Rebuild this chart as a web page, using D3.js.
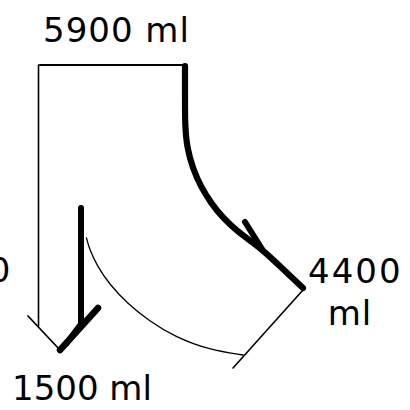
<!DOCTYPE html>
<html>
<head>
<meta charset="utf-8">
<script src="https://cdn.jsdelivr.net/npm/d3@7"></script>
<style>
	body { margin: 0; background: #fff; }
	svg { display: block; }
	text { font-family: 'DejaVu Sans', sans-serif; fill: #000; }
</style>
</head>
<body>
<svg id="chart" width="410" height="410"></svg>
<script>
// diagram points, in units of 10px on a 41 x 41 grid
const topEdge = [[4.0, 6.5], [18.6, 6.5]];
const leftDrop = [[3.85, 6.5], [3.85, 32.6]];
const leftHeadThin = [[2.8, 31.6], [6.0, 35.0]];
const leftHeadThick = [[6.0, 35.0], [9.8, 30.8]];
const innerStem = [[8.1, 20.8], [8.1, 32.4], [6.6, 34.4]];
const rightPath = [[18.5, 6.6], [18.5, 10.0], [18.5, 12.5], [18.7, 14.8], [19.3, 16.9], [20.1, 18.7], [21.1, 20.3], [22.3, 21.8], [23.7, 23.1], [25.2, 24.2], [26.5, 25.2], [28.4, 27.0], [30.3, 28.8]];
const rightBarb = [[24.5, 22.2], [26.2, 24.9]];
const returnArc = [[8.65, 23.8], [8.9, 24.8], [9.7, 26.6], [11.0, 28.5], [12.8, 30.4], [14.8, 32.0], [17.5, 33.7], [21.0, 35.0], [24.3, 35.5]];
const returnLine = [[30.3, 29.0], [23.3, 36.8]];

const labels = [
	{text: '5900 ml', x: 4.3, y: 4.2, anchor: 'start', spacing: 1},
	{text: '1500 ml', x: 1.2, y: 40.0, anchor: 'start', spacing: 0},
	{text: '4400', x: 30.8, y: 28.3, anchor: 'start', spacing: 2},
	{text: 'ml', x: 35.0, y: 32.5, anchor: 'middle', spacing: 1},
	{text: '0', x: 1.05, y: 28.2, anchor: 'end', spacing: 0}
];

const svg = d3.select('#chart');
const x = d3.scaleLinear().domain([0, 41]).range([0, 410]);
const y = d3.scaleLinear().domain([0, 41]).range([0, 410]);

const straight = d3.line().x(d => x(d[0])).y(d => y(d[1]));
const smooth = d3.line().x(d => x(d[0])).y(d => y(d[1])).curve(d3.curveBasis);

function draw(points, gen, width) {
	svg.append('path')
		.datum(points)
		.attr('fill', 'none')
		.attr('stroke', '#000')
		.attr('stroke-width', width)
		.attr('stroke-linecap', 'round')
		.attr('stroke-linejoin', 'round')
		.attr('d', gen);
}

draw(topEdge, straight, 2.2);
draw(leftDrop, straight, 1.6);
draw(leftHeadThin, straight, 1.8);
draw(leftHeadThick, straight, 6.5);
draw(innerStem, straight, 6);
draw(rightPath, smooth, 6.2);
draw(rightBarb, straight, 6);
draw(returnArc, smooth, 1.3);
draw(returnLine, straight, 1.6);

svg.selectAll('text.lbl')
	.data(labels)
	.enter().append('text')
	.attr('class', 'lbl')
	.attr('x', d => x(d.x))
	.attr('y', d => y(d.y))
	.attr('text-anchor', d => d.anchor)
	.attr('font-size', 34)
	.attr('letter-spacing', d => d.spacing)
	.text(d => d.text);
</script>
</body>
</html>
